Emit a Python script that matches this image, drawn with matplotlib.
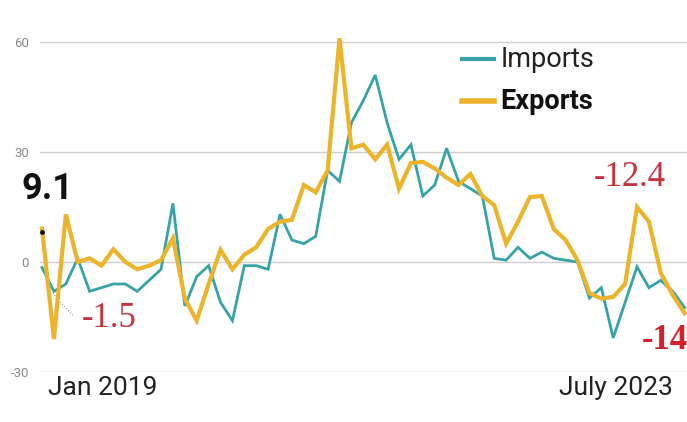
import numpy as np
import pandas as pd
import matplotlib
matplotlib.use("Agg")
import matplotlib.pyplot as plt

# monthly growth (%), Jan 2019 - July 2023
months = pd.date_range("2019-01-01", "2023-07-01", freq="MS")

imports = [-1.5, -8, -6, 1, -8, -7, -6, -6, -8, -5,
           -2, 16, -12, -4, -1, -11, -16, -1, -1, -2,
           13, 6, 5, 7, 25, 22, 38, 44, 51, 38,
           28, 32, 18, 21, 31, 22, 20, 18, 1, 0.5,
           4, 1, 2.7, 1, 0.5, 0, -9.8, -7, -20.7, -11,
           -1.3, -7, -5, -8, -12.4]

exports = [9.1, -21, 13, 0, 1, -1, 3.5, 0, -2, -1,
           0.5, 6.5, -10, -16, -6, 3.3, -2, 2, 4, 9,
           11, 11.5, 21, 19, 25, 61, 31, 32, 28, 32,
           20, 27, 27.3, 25.5, 23, 21, 24, 18, 15.5, 5,
           11, 17.7, 18, 9, 6, 0.5, -8.5, -10, -9.5, -6,
           15, 11, -3, -9, -14]

yticks = [-30, 0, 30, 60]
start_label = "Jan 2019"
end_label = "July 2023"

teal = "#35a3a8"
gold = "#ecb42a"
red = "#c8323c"
serif = ["Liberation Serif", "DejaVu Serif"]

plt.rcParams["font.family"] = ["Roboto", "DejaVu Sans"]

fig = plt.figure(figsize=(6.87, 4.22), dpi=100)
ax = fig.add_axes([40 / 687, 50 / 422, 647 / 687, 352 / 422])

x = np.arange(len(months))
ax.plot(x, imports, color=teal, lw=2.0, solid_joinstyle="miter", zorder=3)
ax.plot(x, exports, color=gold, lw=3.0, solid_joinstyle="miter", zorder=4)

ax.set_xlim(-0.17, 54.2)
ax.set_ylim(-30, 66)
ax.set_yticks(yticks)
ax.set_yticklabels([str(t) for t in yticks])
ax.tick_params(axis="y", length=0, pad=8, labelsize=9.5, labelcolor="#8a8a8a")
ax.set_xticks([])
ax.grid(axis="y", color="#cfcfcf", lw=1)
ax.set_axisbelow(True)
for s in ax.spines.values():
    s.set_visible(False)

# legend drawn by hand like the print graphic
ax.plot([35.3, 38.0], [55.3, 55.3], color=teal, lw=3, clip_on=False)
ax.text(38.5, 55.3, "Imports", fontsize=19.5, va="center", ha="left", color="#222222")
ax.plot([35.3, 38.0], [43.8, 43.8], color=gold, lw=4, clip_on=False)
ax.text(38.5, 43.8, "Exports", fontsize=19.5, fontweight="bold", va="center", ha="left", color="#111111")

# first / last value callouts
ax.plot(0, exports[0] - 1, "o", color="#111111", ms=2.5, zorder=5)
ax.text(-1.75, 19.8, "9.1", fontsize=26, fontweight="bold", color="#111111", va="center", ha="left")
ax.plot([0.1, 1.2, 2.6], [imports[0] - 1, -10, -14.5], color="#999999", lw=0.8, ls=":", zorder=2)
ax.text(3.3, -15.3, "-1.5", fontsize=25, family=serif, color=red, va="center", ha="left")
ax.text(46.4, 23.0, "-12.4", fontsize=25, family=serif, color=red, va="center", ha="left")
ax.text(50.4, -21.3, "-14", fontsize=25, family=serif, fontweight="bold", color="#d3202c",
        va="center", ha="left", clip_on=False)

fig.text(48 / 687, 1 - 388 / 422, start_label, fontsize=19, color="#222222", va="center", ha="left")
fig.text(673 / 687, 1 - 388 / 422, end_label, fontsize=19, color="#222222", va="center", ha="right")

fig.savefig("out.png", dpi=100)
